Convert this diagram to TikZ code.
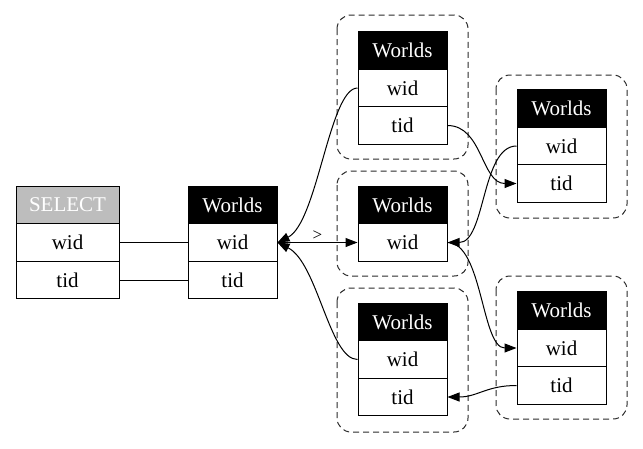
\documentclass[tikz,border=0pt]{standalone}
\usepackage{fontspec}
\setmainfont{Liberation Serif}
\usetikzlibrary{arrows.meta}
\definecolor{selgray}{HTML}{BDBDBD}
\definecolor{clgray}{HTML}{2A2A2A}
\tikzset{
  hdr/.style={draw, fill=black, text=white, line width=1pt, minimum width=89pt, minimum height=37.5pt, inner sep=0pt, font=\fontsize{21}{25}\selectfont},
  selhdr/.style={hdr, fill=selgray, minimum width=103pt},
  cell/.style={draw, fill=white, line width=1pt, minimum width=89pt, minimum height=37.5pt, inner sep=0pt, font=\fontsize{21}{25}\selectfont},
  selcell/.style={cell, minimum width=103pt},
  cluster/.style={draw=clgray, dash pattern=on 6pt off 4pt, rounded corners=14pt, line width=1pt},
  conn/.style={line width=1pt},
  arr/.style={conn, -{Triangle[length=12pt,width=9pt]}},
}
\begin{document}
\begin{tikzpicture}[x=1pt,y=-1pt]
\useasboundingbox (0,0) rectangle (643,448);
% clusters
\draw[cluster] (337,15) rectangle (468,159);
\draw[cluster] (337,171) rectangle (468,276);
\draw[cluster] (337,288) rectangle (468,432);
\draw[cluster] (496,75) rectangle (627,218);
\draw[cluster] (496,276) rectangle (627,419);
% SELECT table
\node[selhdr] (sh) at (67.5,205) {SELECT};
\node[selcell] (sw) at (67.5,242.5) {wid};
\node[selcell] (st) at (67.5,280) {tid};
% W0
\node[hdr] (w0h) at (232.5,205) {Worlds};
\node[cell] (w0w) at (232.5,242.5) {wid};
\node[cell] (w0t) at (232.5,280) {tid};
% W1
\node[hdr] (w1h) at (402.5,50.5) {Worlds};
\node[cell] (w1w) at (402.5,88) {wid};
\node[cell] (w1t) at (402.5,125.5) {tid};
% W2
\node[hdr] (w2h) at (402.5,205) {Worlds};
\node[cell] (w2w) at (402.5,242.5) {wid};
% W3
\node[hdr] (w3h) at (402.5,322) {Worlds};
\node[cell] (w3w) at (402.5,359.5) {wid};
\node[cell] (w3t) at (402.5,397) {tid};
% W4
\node[hdr] (w4h) at (561.5,108.5) {Worlds};
\node[cell] (w4w) at (561.5,146) {wid};
\node[cell] (w4t) at (561.5,183.5) {tid};
% W5
\node[hdr] (w5h) at (561.5,310.5) {Worlds};
\node[cell] (w5w) at (561.5,348) {wid};
\node[cell] (w5t) at (561.5,385.5) {tid};
% connectors
\draw[conn] (sw.east) -- (w0w.west);
\draw[conn] (st.east) -- (w0t.west);
\draw[arr] (w0w.east) -- node[above, font=\fontsize{17}{19}\selectfont, inner sep=2pt] {>} (w2w.west);
\draw[arr] (w1w.west) .. controls +(-28,0) and +(40,-20) .. (w0w.east);
\draw[arr] (w3w.west) .. controls +(-28,0) and +(40,20) .. (w0w.east);
\draw[arr] (w1t.east) .. controls +(35,0) and +(-35,0) .. (w4t.west);
\draw[arr] (w4w.west) .. controls +(-35,0) and +(38,0) .. (w2w.east);
\draw[arr] (w2w.east) .. controls +(35,0) and +(-35,0) .. (w5w.west);
\draw[arr] (w5t.west) .. controls +(-30,0) and +(30,0) .. (w3t.east);
\end{tikzpicture}
\end{document}
